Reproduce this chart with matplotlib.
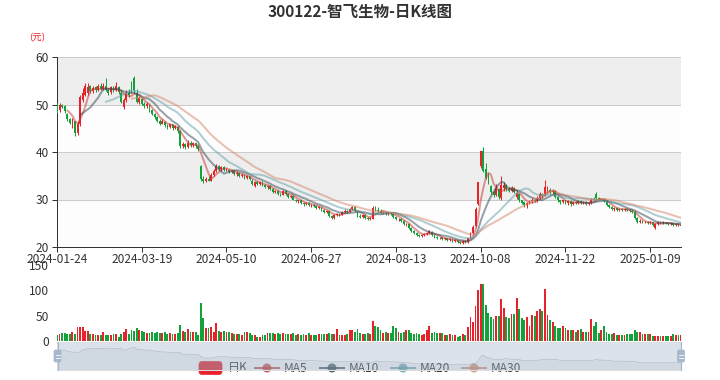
import numpy as np
import pandas as pd
import matplotlib
matplotlib.use('Agg')
import matplotlib.pyplot as plt
from matplotlib.patches import Rectangle, FancyBboxPatch, Circle
from matplotlib.lines import Line2D

plt.rcParams['font.family'] = ['Noto Sans CJK SC', 'DejaVu Sans']

title = "300122-智飞生物-日K线图"
unit_label = "(元)"

# A-share market holidays inside the range
holidays = ["2024-02-09", "2024-02-12", "2024-02-13", "2024-02-14", "2024-02-15", "2024-02-16",
            "2024-04-04", "2024-04-05", "2024-05-01", "2024-05-02", "2024-05-03", "2024-06-10",
            "2024-09-16", "2024-09-17", "2024-10-01", "2024-10-02", "2024-10-03", "2024-10-04",
            "2024-10-07", "2025-01-01"]
dates = [d.strftime("%Y-%m-%d") for d in pd.bdate_range("2024-01-24", "2025-01-27")
         if d.strftime("%Y-%m-%d") not in holidays]

open_ = [50.0, 48.8, 50.0, 49.6, 48.0, 47.0, 45.2, 46.5, 44.0, 46.0,
         51.0, 52.0, 52.5, 53.8, 52.8, 53.6, 53.0, 53.8, 53.2, 54.0,
         53.0, 52.6, 53.5, 53.0, 53.7, 52.4, 49.4, 51.0, 52.5, 54.5,
         55.5, 52.4, 50.6, 51.2, 50.2, 49.6, 50.0, 48.8, 48.0, 47.4,
         46.6, 46.0, 46.4, 45.6, 45.2, 45.8, 45.0, 45.3, 44.4, 41.2,
         41.6, 41.0, 42.0, 41.4, 41.8, 41.2, 37.0, 34.4, 34.0, 34.4,
         34.0, 35.2, 36.0, 37.0, 36.4, 36.8, 36.2, 36.2, 35.8, 36.0,
         35.4, 35.6, 35.0, 35.2, 34.6, 34.9, 34.0, 32.8, 33.6, 33.2,
         33.6, 33.0, 32.6, 32.8, 32.2, 31.6, 31.8, 31.2, 31.0, 31.8,
         31.2, 30.6, 30.8, 30.0, 29.6, 29.8, 29.2, 29.0, 29.3, 28.8,
         28.9, 28.6, 28.2, 28.4, 27.8, 27.4, 27.6, 26.6, 26.2, 26.8,
         27.0, 26.8, 27.4, 27.6, 27.4, 28.0, 28.4, 27.6, 26.6, 26.4,
         26.8, 26.2, 25.8, 26.0, 28.4, 27.8, 27.6, 27.2, 27.4, 27.0,
         27.2, 27.0, 26.4, 25.8, 26.0, 25.4, 24.8, 24.9, 24.0, 23.4,
         23.0, 22.6, 22.4, 22.6, 22.8, 23.0, 23.2, 22.6, 22.2, 21.8,
         22.0, 21.6, 21.8, 21.4, 21.6, 21.2, 21.4, 21.0, 20.8, 21.2,
         21.0, 22.0, 23.0, 24.4, 29.0, 37.0, 40.3, 36.5, 34.6, 32.8,
         31.6, 31.0, 32.2, 30.4, 32.4, 33.0, 32.2, 31.8, 32.4, 30.6,
         31.2, 29.8, 29.4, 28.8, 29.2, 29.6, 30.0, 29.6, 30.4, 31.2,
         31.0, 31.8, 32.0, 31.6, 31.8, 30.6, 29.8, 29.4, 29.8, 29.2,
         29.6, 29.0, 29.4, 29.2, 29.6, 29.2, 29.4, 29.0, 29.2, 30.2,
         31.2, 30.4, 30.0, 30.2, 29.6, 28.8, 28.4, 28.0, 28.2, 27.8,
         28.0, 27.8, 28.0, 27.8, 27.6, 27.4, 26.2, 25.2, 25.4, 25.2,
         25.3, 25.0, 25.2, 24.0, 24.8, 25.2, 25.0, 25.2, 25.0, 24.8,
         25.0, 24.6, 24.8, 24.4]
close = [48.6, 50.0, 49.5, 48.6, 47.0, 46.2, 46.8, 44.0, 45.8, 51.5,
         52.5, 53.8, 53.6, 52.8, 53.5, 53.0, 53.8, 53.2, 53.9, 53.0,
         52.5, 53.6, 53.0, 53.8, 52.6, 50.6, 51.0, 52.5, 52.0, 52.8,
         53.0, 50.6, 51.4, 50.2, 49.6, 50.2, 48.8, 48.0, 47.4, 46.6,
         46.0, 46.6, 45.6, 45.2, 45.8, 45.0, 45.4, 44.4, 41.2, 41.6,
         41.0, 42.0, 41.4, 41.8, 41.2, 40.6, 34.4, 34.0, 34.4, 34.0,
         35.2, 36.0, 37.0, 36.4, 36.8, 36.2, 36.4, 35.8, 36.0, 35.4,
         35.6, 35.0, 35.2, 34.6, 34.9, 34.4, 33.2, 33.6, 33.2, 33.6,
         33.0, 32.6, 32.8, 32.2, 31.6, 31.8, 31.2, 31.0, 31.8, 31.2,
         30.6, 30.8, 30.0, 29.6, 29.8, 29.2, 29.0, 29.3, 28.8, 28.9,
         28.6, 28.2, 28.4, 27.8, 27.4, 27.6, 26.6, 26.2, 26.8, 27.0,
         26.8, 27.4, 27.6, 27.4, 28.0, 28.4, 27.6, 26.6, 26.4, 26.8,
         26.2, 25.8, 26.2, 28.2, 27.8, 27.6, 27.2, 27.4, 27.0, 27.2,
         27.0, 26.4, 25.8, 26.0, 25.4, 24.8, 24.9, 24.0, 23.4, 23.0,
         22.6, 22.4, 22.6, 22.8, 23.0, 23.3, 22.6, 22.2, 21.8, 22.0,
         21.6, 21.8, 21.4, 21.6, 21.2, 21.4, 21.0, 20.8, 21.2, 21.0,
         21.8, 22.8, 24.2, 28.0, 33.6, 40.3, 36.0, 34.6, 33.6, 31.6,
         31.0, 32.4, 30.6, 33.0, 33.0, 32.2, 31.8, 32.4, 31.6, 31.4,
         29.8, 29.2, 28.8, 29.2, 29.6, 30.0, 29.6, 30.4, 31.2, 30.8,
         32.6, 32.2, 31.6, 31.8, 30.6, 29.8, 29.4, 29.8, 29.2, 29.6,
         29.0, 29.4, 29.2, 29.6, 29.2, 29.4, 29.0, 29.2, 30.0, 29.9,
         30.4, 30.0, 30.2, 29.6, 28.8, 28.4, 28.0, 28.2, 27.8, 28.0,
         27.8, 28.0, 27.8, 27.6, 27.4, 26.2, 25.2, 25.4, 25.2, 25.3,
         25.0, 25.2, 24.6, 24.8, 25.2, 25.0, 25.2, 25.0, 24.8, 25.0,
         24.6, 24.8, 24.6, 24.6]
high = [50.3, 50.4, 50.2, 49.8, 48.2, 47.2, 47.2, 46.6, 46.6, 52.0,
        53.5, 54.5, 54.5, 54.2, 54.0, 54.0, 54.3, 54.5, 54.6, 55.6,
        53.4, 54.0, 54.0, 54.8, 54.0, 53.0, 51.4, 53.0, 53.2, 55.0,
        56.0, 53.2, 51.8, 51.4, 50.5, 50.5, 50.1, 49.0, 48.3, 47.6,
        46.9, 47.0, 46.6, 45.9, 46.0, 46.0, 45.6, 45.5, 44.6, 42.2,
        42.0, 42.6, 42.4, 42.2, 42.0, 41.4, 37.2, 35.0, 34.8, 34.9,
        35.5, 36.4, 37.4, 37.2, 37.0, 37.0, 36.6, 36.5, 36.3, 36.2,
        35.9, 35.8, 35.5, 35.3, 35.2, 35.0, 34.4, 33.8, 33.8, 33.9,
        33.8, 33.2, 33.0, 33.0, 32.4, 32.0, 32.0, 31.4, 32.0, 32.0,
        31.4, 31.0, 31.0, 30.2, 30.0, 30.0, 29.4, 29.5, 29.5, 29.1,
        29.1, 28.8, 28.6, 28.5, 28.0, 27.8, 27.7, 26.8, 27.0, 27.2,
        27.2, 27.6, 27.9, 27.8, 28.3, 28.6, 28.6, 27.8, 26.9, 27.0,
        27.0, 26.4, 26.4, 28.6, 28.6, 28.4, 28.0, 27.6, 27.6, 27.4,
        27.4, 27.1, 26.6, 26.2, 26.1, 25.6, 25.1, 25.0, 24.2, 23.6,
        23.2, 22.8, 22.8, 23.0, 23.2, 23.5, 23.3, 22.7, 22.4, 22.2,
        22.1, 22.0, 21.9, 21.8, 21.7, 21.6, 21.5, 21.2, 21.4, 21.4,
        22.0, 23.2, 24.6, 28.4, 33.6, 40.3, 41.0, 37.6, 35.5, 33.0,
        32.0, 33.2, 32.4, 35.0, 33.6, 33.2, 32.6, 32.8, 32.6, 32.0,
        31.4, 30.0, 29.6, 29.4, 29.8, 30.3, 30.2, 30.8, 31.6, 31.4,
        34.2, 32.8, 32.4, 32.2, 32.0, 30.8, 30.0, 30.0, 30.0, 29.9,
        29.8, 29.6, 29.6, 29.8, 29.8, 29.6, 29.6, 29.4, 30.4, 30.5,
        31.6, 30.6, 30.4, 30.3, 29.8, 29.0, 28.6, 28.4, 28.4, 28.2,
        28.2, 28.2, 28.2, 28.0, 27.8, 27.6, 26.4, 25.8, 25.6, 25.5,
        25.4, 25.4, 25.3, 25.0, 25.4, 25.4, 25.4, 25.3, 25.2, 25.2,
        25.1, 25.0, 25.0, 24.8]
low = [48.2, 48.5, 49.2, 48.2, 46.6, 45.8, 45.0, 43.3, 43.5, 45.5,
       50.5, 51.8, 52.0, 52.5, 52.5, 52.6, 52.8, 53.0, 53.0, 52.8,
       52.0, 52.3, 52.6, 52.8, 52.3, 50.4, 49.0, 50.5, 51.5, 52.5,
       52.5, 50.4, 50.2, 49.8, 49.2, 49.3, 48.5, 47.7, 47.0, 46.3,
       45.6, 45.8, 45.3, 44.9, 45.0, 44.6, 44.8, 44.1, 40.8, 40.8,
       40.6, 40.8, 41.0, 41.1, 40.9, 40.3, 34.0, 33.5, 33.6, 33.8,
       33.8, 35.0, 35.8, 36.2, 36.1, 36.0, 35.9, 35.6, 35.5, 35.2,
       35.0, 34.7, 34.8, 34.4, 34.4, 34.1, 33.0, 32.6, 33.0, 33.0,
       32.8, 32.4, 32.3, 32.0, 31.4, 31.3, 31.0, 30.8, 30.9, 30.9,
       30.4, 30.3, 29.8, 29.4, 29.3, 29.0, 28.7, 28.8, 28.6, 28.5,
       28.4, 28.0, 27.9, 27.6, 27.2, 27.1, 26.4, 25.9, 26.0, 26.6,
       26.6, 26.7, 27.2, 27.2, 27.3, 27.8, 27.4, 26.4, 26.2, 26.2,
       26.0, 25.6, 25.6, 25.8, 27.6, 27.4, 27.0, 27.0, 26.8, 26.8,
       26.8, 26.2, 25.6, 25.5, 25.2, 24.6, 24.5, 23.8, 23.2, 22.8,
       22.4, 22.2, 22.2, 22.4, 22.6, 22.8, 22.4, 22.0, 21.6, 21.6,
       21.4, 21.4, 21.2, 21.2, 21.0, 21.0, 20.8, 20.6, 20.6, 20.8,
       20.9, 21.8, 22.8, 24.2, 28.8, 36.6, 35.8, 34.4, 33.2, 31.2,
       30.6, 30.8, 30.2, 29.8, 31.8, 31.8, 31.5, 31.6, 31.4, 30.2,
       29.4, 29.0, 28.4, 28.2, 29.0, 29.3, 29.4, 29.4, 30.2, 30.4,
       30.8, 31.4, 31.2, 31.2, 30.4, 29.4, 29.0, 29.2, 29.0, 28.8,
       28.6, 28.8, 29.0, 29.0, 29.0, 29.0, 28.8, 28.8, 29.0, 29.7,
       30.0, 29.8, 29.8, 29.4, 28.6, 28.2, 27.8, 27.6, 27.6, 27.6,
       27.6, 27.6, 27.6, 27.4, 27.2, 26.0, 25.0, 25.0, 25.0, 25.0,
       24.8, 24.8, 24.4, 23.8, 24.6, 24.8, 24.8, 24.8, 24.6, 24.6,
       24.4, 24.4, 24.4, 24.3]
volume = [12, 14, 15, 15, 13, 13, 17, 13, 27, 28,
          27, 20, 19, 13, 13, 12, 12, 11, 17, 12,
          11, 12, 14, 13, 8, 14, 17, 23, 13, 21,
          20, 25, 22, 20, 18, 16, 16, 17, 15, 18,
          16, 16, 17, 14, 16, 14, 14, 15, 31, 19,
          18, 23, 18, 18, 17, 12, 75, 46, 26, 26,
          28, 18, 36, 19, 18, 20, 17, 18, 16, 13,
          13, 14, 12, 17, 17, 15, 12, 12, 8, 8,
          12, 11, 15, 16, 15, 14, 15, 13, 16, 13,
          14, 13, 15, 12, 13, 12, 13, 12, 16, 11,
          12, 12, 13, 14, 13, 14, 15, 13, 14, 23,
          12, 11, 12, 13, 22, 22, 18, 23, 16, 14,
          14, 15, 14, 40, 30, 28, 22, 16, 17, 15,
          16, 29, 26, 17, 16, 17, 22, 22, 15, 14,
          15, 13, 12, 13, 21, 30, 16, 17, 16, 15,
          16, 12, 12, 13, 12, 12, 8, 9, 14, 12,
          28, 48, 37, 70, 100, 113, 112, 72, 56, 48,
          43, 49, 50, 82, 65, 48, 46, 53, 53, 84,
          63, 46, 41, 47, 30, 52, 50, 59, 64, 59,
          103, 52, 41, 38, 30, 26, 26, 30, 26, 21,
          21, 21, 18, 21, 23, 18, 18, 18, 44, 30,
          38, 16, 21, 30, 17, 13, 13, 16, 12, 12,
          12, 12, 13, 13, 14, 21, 18, 18, 13, 13,
          13, 13, 9, 9, 10, 10, 10, 10, 10, 10,
          14, 12, 12, 12]

ma_windows = [5, 10, 20, 30]
ma_names = ["MA5", "MA10", "MA20", "MA30"]
ma_colors = ["#c23531", "#2f4554", "#61a0a8", "#d48265"]
up_color = "#e8222a"
down_color = "#13a23a"

N = len(close)
dates = dates[:N]
xs = np.arange(N)
o = np.array(open_); c = np.array(close); h = np.array(high); l = np.array(low)
v = np.array(volume)
is_up = c >= o
colors = np.where(is_up, up_color, down_color)

W, H = 720, 380
PT = 0.72  # points per pixel
def rect(lft, top, rgt, bot):
    return [lft / W, 1 - bot / H, (rgt - lft) / W, (bot - top) / H]

fig = plt.figure(figsize=(7.2, 3.8), dpi=100)

# ---------------- main price panel ----------------
ax = fig.add_axes(rect(57, 57, 681, 247))
ax.set_xlim(0, N - 1)
ax.set_ylim(20, 60)
for k, lo in enumerate(range(20, 60, 10)):
    ax.axhspan(lo, lo + 10, color="#fdfdfd" if k % 2 == 0 else "#eeeeee", lw=0, zorder=0)
for yv in [30, 40, 50, 60]:
    ax.axhline(yv, color="#cccccc", lw=1 * PT, zorder=1)

ax.vlines(xs, l, h, colors=colors, lw=1 * PT, zorder=3)
body_lo = np.minimum(o, c)
body_h = np.maximum(np.abs(c - o), 0.08)
ax.bar(xs, body_h, bottom=body_lo, width=0.7, color=colors, lw=0, zorder=4)

cs = pd.Series(c)
for w, name, col in zip(ma_windows, ma_names, ma_colors):
    ma = cs.rolling(w).mean()
    ax.plot(xs, ma, color=col, alpha=0.5, lw=2 * PT, zorder=5, solid_capstyle="round")

for s in ["top", "right"]:
    ax.spines[s].set_visible(False)
for s in ["left", "bottom"]:
    ax.spines[s].set_color("#333333")
    ax.spines[s].set_linewidth(1 * PT)
ax.set_yticks([20, 30, 40, 50, 60])
ax.tick_params(axis="y", direction="out", length=5 * PT, width=1 * PT, color="#333333",
               labelsize=12 * PT, labelcolor="#333333", pad=3 * PT)
tick_idx = list(range(0, N, 33))
ax.set_xticks(tick_idx)
ax.set_xticklabels([dates[i] for i in tick_idx])
ax.tick_params(axis="x", direction="out", length=5 * PT, width=1 * PT, color="#333333",
               labelsize=12 * PT, labelcolor="#333333", pad=1 * PT)

# ---------------- volume panel ----------------
axv = fig.add_axes(rect(57, 265, 681, 341))
axv.set_xlim(0, N - 1)
axv.set_ylim(0, 150)
axv.bar(xs, v, width=0.72, color=colors, lw=0)
for s in axv.spines.values():
    s.set_visible(False)
axv.set_xticks([])
axv.set_yticks([0, 50, 100, 150])
axv.tick_params(axis="y", length=0, labelsize=12 * PT, labelcolor="#333333", pad=8 * PT)
axv.patch.set_alpha(0)

# ---------------- legend (drawn beneath slider filler) ----------------
axl = fig.add_axes([0, 0, 1, 1], zorder=1)
axl.set_xlim(0, W); axl.set_ylim(H, 0); axl.axis("off"); axl.patch.set_alpha(0)
ly = 368
axl.add_patch(FancyBboxPatch((199, ly - 6.5), 23, 13, boxstyle="round,pad=0,rounding_size=3",
                             fc=up_color, ec=up_color, lw=0.5))
axl.text(228, ly, "日K", fontsize=12 * PT, color="#333333", va="center", ha="left")
icon_x = [255, 320, 391, 462]
for ix, name, col in zip(icon_x, ma_names, ma_colors):
    axl.add_line(Line2D([ix, ix + 24], [ly, ly], color=col, lw=2 * PT, alpha=0.8))
    axl.add_patch(Circle((ix + 12, ly), 4.5, fc=col, ec=col, alpha=0.8, lw=0))
    axl.text(ix + 29, ly, name, fontsize=12 * PT, color="#333333", va="center", ha="left")

# ---------------- dataZoom slider ----------------
axs = fig.add_axes(rect(57, 342, 681, 370), zorder=2)
axs.set_xlim(0, N - 1); axs.set_ylim(0, 1)
axs.axis("off"); axs.patch.set_alpha(0)
lo_ext, hi_ext = o.min(), o.max()
off = (hi_ext - lo_ext) * 0.3
shadow = (o - (lo_ext - off)) / ((hi_ext + off) - (lo_ext - off))
axs.fill_between(xs, 0, shadow, color="#2f4554", alpha=0.09, lw=0)
axs.plot(xs, shadow, color="#2f4554", alpha=0.3, lw=0.5 * PT)
axs.add_patch(Rectangle((0, 0), N - 1, 1, fc=(167 / 255, 183 / 255, 204 / 255, 0.4), ec="none"))
axs.add_patch(Rectangle((0, 0), N - 1, 1, fc="none", ec="#dddddd", lw=1 * PT, clip_on=False))

# handles
axh = fig.add_axes([0, 0, 1, 1], zorder=3)
axh.set_xlim(0, W); axh.set_ylim(H, 0); axh.axis("off"); axh.patch.set_alpha(0)
for hx in [57.5, 681]:
    axh.add_line(Line2D([hx, hx], [342, 370], color="#a7b7cc", lw=1.2 * PT))
    axh.add_patch(FancyBboxPatch((hx - 3.5, 350), 7, 12, boxstyle="round,pad=0,rounding_size=1.5",
                                 fc="#a7b7cc", ec="#a7b7cc", lw=0.5))
    for yy in [354.5, 357.5]:
        axh.add_line(Line2D([hx - 2, hx + 2], [yy, yy], color="white", lw=0.8 * PT))

# ---------------- titles ----------------
fig.text(0.5, 1 - 12 / H, title, ha="center", va="center", fontsize=15.5 * PT,
         fontweight="bold", color="#333333")
fig.text(37 / W, 1 - 38 / H, unit_label, ha="center", va="center", fontsize=9.5 * PT,
         color="#ef232a")

fig.savefig("out.png", dpi=100)
